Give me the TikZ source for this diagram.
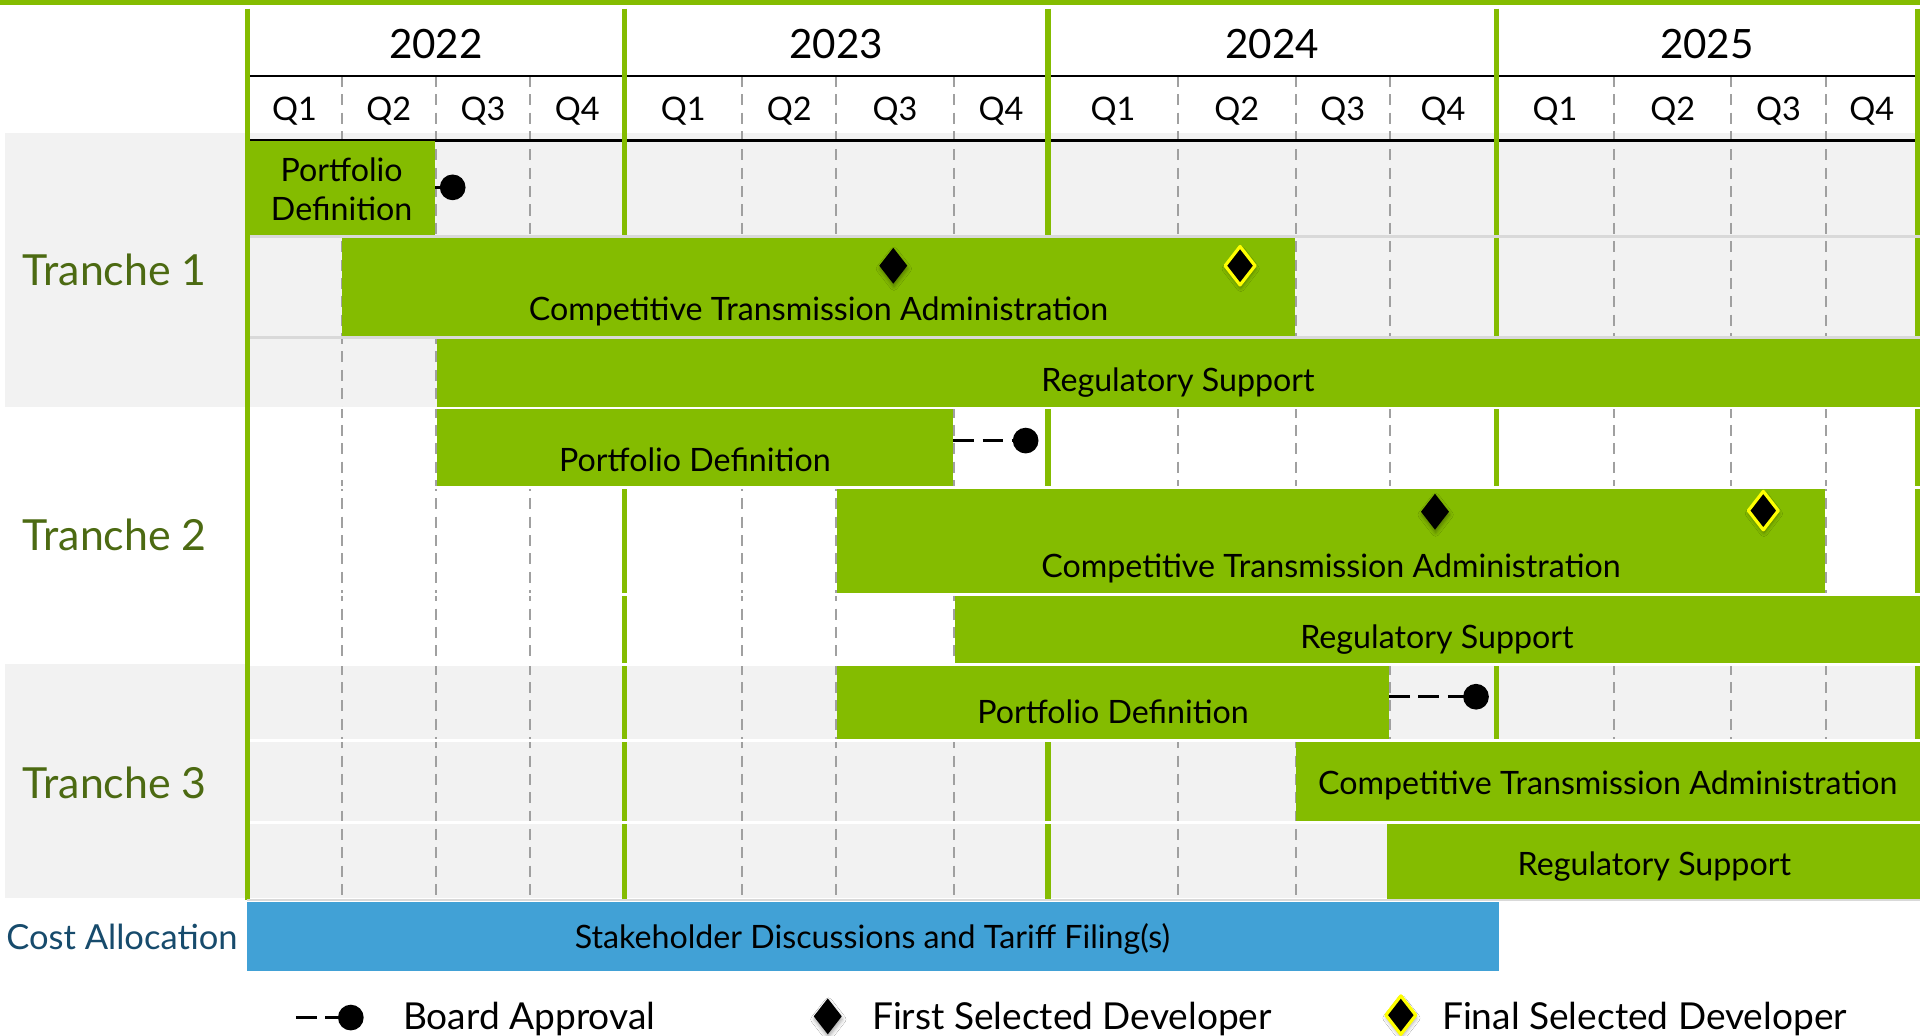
\documentclass[tikz,border=0pt]{standalone}
\usepackage{fontspec}
\setmainfont{Lato}
\usetikzlibrary{shapes.geometric,shadows.blur,fit}

\definecolor{bargreen}{RGB}{132,188,0}
\definecolor{tranchegreen}{RGB}{76,106,18}
\definecolor{costblue}{RGB}{23,75,108}
\definecolor{barblue}{RGB}{65,161,214}
\definecolor{rowgray}{RGB}{242,242,242}
\definecolor{qgray}{RGB}{160,160,160}
\definecolor{sepgray}{RGB}{217,217,217}
\definecolor{markyellow}{RGB}{255,255,0}

\begin{document}
\begin{tikzpicture}[x=1pt,y=-1pt,
  bar/.style={rectangle,fill=bargreen,inner sep=0pt,outer sep=0pt},
  costbar/.style={rectangle,fill=barblue,inner sep=0pt,outer sep=0pt},
  bartext/.style={anchor=base,inner sep=0pt,font=\fontsize{26.3}{31}\selectfont},
  yeartext/.style={anchor=base,inner sep=0pt,font=\fontsize{33}{38}\selectfont},
  qtext/.style={anchor=base,inner sep=0pt,font=\fontsize{26.5}{31}\selectfont},
  tranchetext/.style={anchor=base west,inner sep=0pt,text=tranchegreen,font=\fontsize{35}{40}\selectfont},
  costtext/.style={anchor=base west,inner sep=0pt,text=costblue,font=\fontsize{28.2}{33}\selectfont},
  legendtext/.style={anchor=base west,inner sep=0pt,font=\fontsize{30.3}{35}\selectfont},
  yearline/.style={draw=bargreen,line width=4.5pt},
  qline/.style={draw=qgray,line width=1.6pt,dash pattern=on 9pt off 6pt},
  headline/.style={draw=black,line width=2.3pt},
  whitesep/.style={draw=white,line width=2.4pt},
  graysep/.style={draw=sepgray,line width=2.2pt},
  approvaldot/.style={circle,fill=black,inner sep=0pt,minimum size=21pt},
  approvaldash/.style={draw=black,line width=2.5pt,dash pattern=on 17pt off 7pt},
  firstdev/.style={diamond,fill=black,inner sep=0pt,minimum width=23pt,minimum height=29.5pt,
    blur shadow={shadow xshift=0.5pt,shadow yshift=-2.5pt,shadow blur radius=3pt,shadow opacity=35}},
  finaldev/.style={diamond,fill=black,draw=markyellow,line width=2.6pt,line join=round,inner sep=0pt,
    minimum width=25.5pt,minimum height=32.5pt,
    blur shadow={shadow xshift=0.5pt,shadow yshift=-2.5pt,shadow blur radius=3pt,shadow opacity=35}},
]
\useasboundingbox (0,0) rectangle (1568,846);
\fill[white] (0,0) rectangle (1568,846);

% top band
\fill[bargreen] (0,0) rectangle (1568,4.2);

% shaded tranche bands
\fill[rowgray] (4.4,108.4) rectangle (1568,332);
\fill[rowgray] (4.4,542.3) rectangle (1568,733.6);

% quarter dividers
\foreach \x in {279,356,433,606,683,779,962,1058,1135,1318,1414,1491}
  \draw[qline] (\x,62) -- (\x,735);

% header rules
\draw[headline] (204,62) -- (1566,62);
\draw[headline] (204,115) -- (1566,115);

% year dividers
\foreach \x in {202,510,856,1222,1565.8}
  \draw[yearline] (\x,7) -- (\x,735);

% year and quarter labels
\node[yeartext] (y2022) at (356,47.6) {2022};
\node[yeartext] (y2023) at (683,47.6) {2023};
\node[yeartext] (y2024) at (1039,47.6) {2024};
\node[yeartext] (y2025) at (1394,47.6) {2025};
\foreach \x/\q [count=\i] in {240.5/Q1,317.5/Q2,394.5/Q3,471.5/Q4,558/Q1,644.5/Q2,731/Q3,817.5/Q4,909/Q1,1010/Q2,1096.5/Q3,1178.5/Q4,1270/Q1,1366/Q2,1452.5/Q3,1528.5/Q4}
  \node[qtext] (q\i) at (\x,98) {\q};

% Tranche 1 bars
\node[bar,fit={(204.3,115) (355.4,193.3)}] (t1pd) {};
\node[bar,fit={(279.6,193.3) (1057.4,275.8)}] (t1cta) {};
\node[bar,fit={(356.6,275.8) (1568,333.2)}] (t1rs) {};
% Tranche 2 bars
\node[bar,fit={(356.6,333.2) (778.4,398.5)}] (t2pd) {};
\node[bar,fit={(683.6,398.5) (1490.4,485.2)}] (t2cta) {};
\node[bar,fit={(779.6,485.2) (1568,543)}] (t2rs) {};
% Tranche 3 bars
\node[bar,fit={(683.6,543) (1134.4,604.6)}] (t3pd) {};
\node[bar,fit={(1058.6,604.6) (1568,672)}] (t3cta) {};
\node[bar,fit={(1132.5,672) (1568,735)}] (t3rs) {};
% cost allocation bar
\node[costbar,fit={(201.6,736.4) (1224,792.6)}] (cost) {};

% row separators
\draw[graysep] (204.5,193.3) -- (1568,193.3);
\draw[graysep] (204.5,275.8) -- (1568,275.8);
\foreach \y in {333.2,398.5,485.2,543,604.6,672}
  \draw[whitesep] (204.5,\y) -- (1568,\y);
\draw[graysep] (202,735) -- (1568,735);

% bar captions
\node[bartext] (t1pda) at (279,148.4) {Portfolio};
\node[bartext] (t1pdb) at (279,180.2) {Definition};
\node[bartext] (t1ctat) at (668.5,262) {Competitive Transmission Administration};
\node[bartext] (t1rst) at (962,320) {Regulatory Support};
\node[bartext] (t2pdt) at (567.5,385) {Portfolio Definition};
\node[bartext] (t2ctat) at (1087,472) {Competitive Transmission Administration};
\node[bartext] (t2rst) at (1173.5,530) {Regulatory Support};
\node[bartext] (t3pdt) at (909,591) {Portfolio Definition};
\node[bartext] (t3ctat) at (1313,648.7) {Competitive Transmission Administration};
\node[bartext] (t3rst) at (1351,714.6) {Regulatory Support};
\node[bartext] (costt) at (712.5,775) {Stakeholder Discussions and Tariff Filing(s)};

% row group labels
\node[tranchetext] (tr1) at (18.5,233.5) {Tranche 1};
\node[tranchetext] (tr2) at (18.5,449.7) {Tranche 2};
\node[tranchetext] (tr3) at (18.5,652) {Tranche 3};
\node[costtext] (costl) at (5,775.8) {Cost Allocation};

% board approvals
\node[approvaldot] (t1ok) at (369.7,153) {};
\node[approvaldot] (t2ok) at (837.6,359.8) {};
\node[approvaldot] (t3ok) at (1205.4,569) {};
\draw[approvaldash] (t1pd.east |- t1ok) -- (t1ok.center);
\draw[approvaldash] (t2pd.east |- t2ok) -- (t2ok.center);
\draw[approvaldash] (t3pd.east |- t3ok) -- (t3ok.center);

% developer selections
\node[firstdev] (t1first) at (729.5,217) {};
\node[finaldev] (t1final) at (1012.7,217) {};
\node[firstdev] (t2first) at (1171.9,417.9) {};
\node[finaldev] (t2final) at (1440,417) {};

% legend
\coordinate (lgstart) at (241.7,831);
\node[approvaldot] (lgdot) at (286.5,831) {};
\draw[approvaldash] (lgstart) -- (lgdot.center);
\node[legendtext] (lgboard) at (329,841) {Board Approval};
\node[firstdev] (lgfirst) at (676,830) {};
\node[legendtext] (lgfirstt) at (712,841) {First Selected Developer};
\node[finaldev] (lgfinal) at (1144,829) {};
\node[legendtext] (lgfinalt) at (1177.5,841) {Final Selected Developer};
\end{tikzpicture}
\end{document}
